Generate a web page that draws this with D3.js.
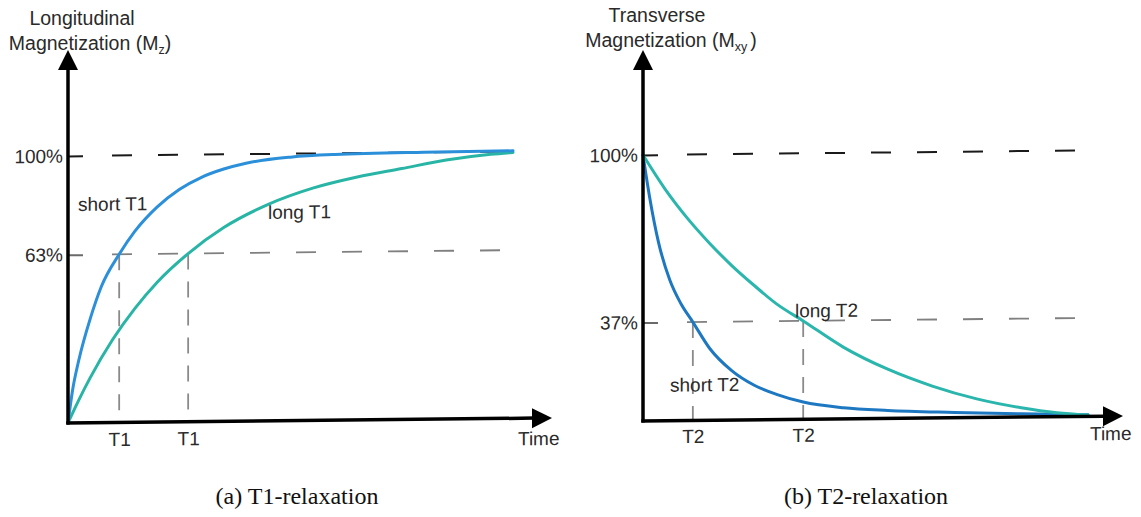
<!DOCTYPE html>
<html>
<head>
<meta charset="utf-8">
<script src="https://cdn.jsdelivr.net/npm/d3@7"></script>
<style>
  html, body { margin: 0; background: #fff; }
  svg { display: block; }
  text { font-family: "Liberation Sans", Arial, Helvetica, sans-serif; fill: #2a2a2a; }
  .caption { font-family: "Liberation Serif", "Times New Roman", serif; fill: #111; }
</style>
</head>
<body>
<svg id="chart" width="1141" height="517"></svg>
<script>
// ---- T1 relaxation: longitudinal magnetization (% of equilibrium) over time (arbitrary units)
const shortT1Time = [0, 0.1, 0.25, 0.5, 0.75, 1.15, 1.5, 2, 2.5, 3, 3.5, 4, 5, 6, 8, 10];
const shortT1Mz   = [0, 12, 24, 39, 51, 63, 71.5, 80.5, 87, 91.5, 94.5, 96.6, 98.7, 99.5, 100, 100.2];
const longT1Time  = [0, 0.1, 0.25, 0.5, 1, 1.5, 2, 2.7, 3.5, 4.5, 5.5, 6.5, 7.5, 8.5, 9.5, 10];
const longT1Mz    = [0, 3.6, 8.8, 16.9, 31, 42.6, 52.3, 63, 72.6, 81.1, 87, 91, 94, 97, 99, 99.6];
const t1Marks     = [1.15, 2.7];          // short and long T1
const t1Levels    = [63, 100];

// ---- T2 relaxation: transverse magnetization (% of initial) over time
const shortT2Time = [0, 0.15, 0.35, 0.6, 0.85, 1.12, 1.5, 2, 2.5, 3, 3.6, 4.5, 5.5, 7, 8.5, 10];
const shortT2Mxy  = [100, 84, 67, 53, 44, 37, 27, 18.5, 13, 9.5, 6.5, 4.2, 3, 2, 1.2, 0.6];
const longT2Time  = [0, 0.5, 1, 1.5, 2, 2.5, 3, 3.6, 4.5, 5.5, 6.5, 7.5, 8.5, 9.3, 10];
const longT2Mxy   = [100, 87, 76, 66.5, 58, 50.5, 43.5, 37, 27, 18.5, 12, 7, 3.5, 1.5, 0.5];
const t2Marks     = [1.12, 3.6];          // short and long T2
const t2Levels    = [37, 100];

const svg = d3.select("#chart");
const tilt = -0.6;                          // slight slant of the drawing
const FS = 19;

function panel(cfg) {
  const g = svg.append("g")
    .attr("transform", `translate(${cfg.ox},${cfg.oy}) skewY(${tilt})`);

  const x = d3.scaleLinear().domain([0, 10]).range([0, 445]);
  const y = d3.scaleLinear().domain([0, 100]).range([0, -cfg.yLen]);

  // horizontal reference levels
  cfg.levels.forEach(v => {
    const strong = v === 100;
    g.append("line")
      .attr("x1", 44).attr("x2", cfg.refEnd)
      .attr("y1", y(v)).attr("y2", y(v))
      .attr("stroke", strong ? "#1a1a1a" : "#808080")
      .attr("stroke-width", strong ? 2 : 1.8)
      .attr("stroke-dasharray", "20,26");
  });

  // vertical time-constant markers
  cfg.marks.forEach(m => {
    g.append("line")
      .attr("x1", x(m)).attr("x2", x(m))
      .attr("y1", y(cfg.levels[0])).attr("y2", 0)
      .attr("stroke", "#8a8a8a")
      .attr("stroke-width", 1.8)
      .attr("stroke-dasharray", "16,12");
  });

  // y axis ticks + labels
  const ya = g.append("g")
    .call(d3.axisLeft(y).tickValues(cfg.levels).tickFormat(d => d + "%")
      .tickSizeInner(-15).tickSizeOuter(0).tickPadding(cfg.yPad));
  ya.select(".domain").remove();
  ya.selectAll(".tick line")
    .attr("stroke", d => d === 100 ? "#1a1a1a" : "#6a6a6a")
    .attr("stroke-width", 2);
  ya.selectAll(".tick text")
    .style("font-size", FS + "px")
    .style("font-family", "'Liberation Sans', Arial, sans-serif")
    .attr("fill", "#2a2a2a");

  // x axis tick labels
  const xa = g.append("g")
    .call(d3.axisBottom(x).tickValues(cfg.marks).tickFormat(() => cfg.markLabel)
      .tickSize(0).tickPadding(cfg.xPad));
  xa.select(".domain").remove();
  xa.selectAll(".tick text")
    .style("font-size", FS + "px")
    .style("font-family", "'Liberation Sans', Arial, sans-serif")
    .attr("fill", "#2a2a2a");

  // curves
  const line = d3.line().x(d => x(d[0])).y(d => y(d[1])).curve(d3.curveMonotoneX);
  cfg.curves.forEach(c => {
    g.append("path")
      .datum(c.time.map((t, i) => [t, c.values[i]]))
      .attr("fill", "none")
      .attr("stroke", c.color)
      .attr("stroke-width", 3)
      .attr("stroke-linecap", "round")
      .attr("d", line);
  });

  // axes with arrowheads
  const axisColor = "#000";
  g.append("line").attr("x1", 0).attr("y1", 1.5).attr("x2", 0).attr("y2", -cfg.yTip + 18)
    .attr("stroke", axisColor).attr("stroke-width", 3.5);
  g.append("line").attr("x1", -1.7).attr("y1", 0).attr("x2", cfg.xTip - 18).attr("y2", 0)
    .attr("stroke", axisColor).attr("stroke-width", 3.5);
  g.append("path")
    .attr("d", `M${-10},${-cfg.yTip + 20} L0,${-cfg.yTip} L10,${-cfg.yTip + 20} Z`)
    .attr("fill", axisColor);
  g.append("path")
    .attr("d", `M${cfg.xTip - 20},-10 L${cfg.xTip},0 L${cfg.xTip - 20},10 Z`)
    .attr("fill", axisColor);

  // in-plot labels
  cfg.labels.forEach(l => {
    g.append("text").attr("x", l.x).attr("y", l.y)
      .style("font-size", FS + "px").text(l.text);
  });

  // axis title (unslanted)
  const tg = svg.append("g");
  tg.append("text").attr("x", cfg.title.x1).attr("y", cfg.title.y1)
    .attr("text-anchor", "middle").style("font-size", "19.5px").text(cfg.title.line1);
  const t2 = tg.append("text").attr("x", cfg.title.x2).attr("y", cfg.title.y2)
    .attr("text-anchor", "middle").style("font-size", "19.5px");
  t2.append("tspan").text("Magnetization (M");
  t2.append("tspan").attr("dy", 4).style("font-size", "12.5px").text(cfg.title.sub);
  t2.append("tspan").attr("dy", -4).attr("dx", cfg.title.subGap).text(")");

  // caption
  svg.append("text").attr("class", "caption")
    .attr("x", cfg.caption.x).attr("y", 504)
    .attr("text-anchor", "middle").style("font-size", "24px")
    .text(cfg.caption.text);
}

panel({
  ox: 68, oy: 423, yLen: 267, yTip: 373, xTip: 484, refEnd: 445, yPad: 5, xPad: 10,
  levels: t1Levels, marks: t1Marks, markLabel: "T1",
  curves: [
    { time: longT1Time, values: longT1Mz, color: "#29b5a6" },
    { time: shortT1Time, values: shortT1Mz, color: "#2b8fd9" }
  ],
  labels: [
    { text: "short T1", x: 10, y: -212 },
    { text: "long T1", x: 200, y: -202 },
    { text: "Time", x: 450, y: 27 }
  ],
  title: { line1: "Longitudinal", x1: 82, y1: 25, x2: 90, y2: 50, sub: "z", subGap: 0 },
  caption: { x: 297, text: "(a) T1-relaxation" }
});

panel({
  ox: 643, oy: 421, yLen: 266, yTip: 371, xTip: 480, refEnd: 442, yPad: 5, xPad: 9,
  levels: t2Levels, marks: t2Marks, markLabel: "T2",
  curves: [
    { time: shortT2Time, values: shortT2Mxy, color: "#1d78c1" },
    { time: longT2Time, values: longT2Mxy, color: "#2bb6ad" }
  ],
  labels: [
    { text: "long T2", x: 152, y: -102 },
    { text: "short T2", x: 27, y: -29 },
    { text: "Time", x: 447, y: 24 }
  ],
  title: { line1: "Transverse", x1: 657, y1: 22, x2: 671, y2: 47, sub: "xy", subGap: 3 },
  caption: { x: 866, text: "(b) T2-relaxation" }
});
</script>
</body>
</html>
